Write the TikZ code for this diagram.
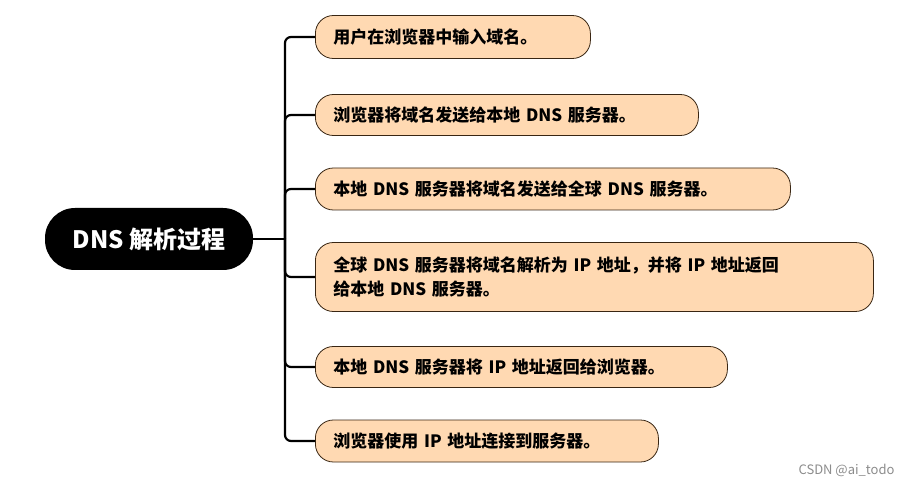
\documentclass[tikz,border=0pt]{standalone}
\usepackage{fontspec}
\setmainfont{Noto Sans CJK SC}
\usetikzlibrary{positioning}
\tikzset{
  stepbox/.style={draw=black!70!brown,line width=0.8pt,fill=orange!30!white,rounded corners=18pt,
    anchor=west,align=left,inner xsep=18pt,font=\fontsize{17}{24}\selectfont\bfseries},
  rootbox/.style={fill=black,text=white,rounded corners=30pt,minimum width=208pt,minimum height=62pt,
    font=\fontsize{24}{26}\selectfont\bfseries},
  link/.style={line width=2.2pt,rounded corners=6pt}
}
\begin{document}
\begin{tikzpicture}[x=1pt,y=-1pt]
\useasboundingbox (0,0) rectangle (910,486);
\node[rootbox] (root) at (149,239) {DNS 解析过程};
\coordinate (hub) at (285,239);
\node[stepbox,minimum width=275pt,minimum height=43pt,text width=239pt] (s1) at (315,37) {用户在浏览器中输入域名。};
\node[stepbox,minimum width=383pt,minimum height=41pt,text width=347pt] (s2) at (315,115) {浏览器将域名发送给本地 DNS 服务器。};
\node[stepbox,minimum width=475pt,minimum height=42pt,text width=439pt] (s3) at (315,189) {本地 DNS 服务器将域名发送给全球 DNS 服务器。};
\node[stepbox,minimum width=558pt,minimum height=69pt,text width=522pt] (s4) at (315,277) {全球 DNS 服务器将域名解析为 IP 地址，并将 IP 地址返回\\给本地 DNS 服务器。};
\node[stepbox,minimum width=412pt,minimum height=41pt,text width=376pt] (s5) at (315,367) {本地 DNS 服务器将 IP 地址返回给浏览器。};
\node[stepbox,minimum width=343pt,minimum height=42pt,text width=307pt] (s6) at (315,441) {浏览器使用 IP 地址连接到服务器。};
\draw[link] (root.east) -- (hub);
\foreach \s in {s1,s2,s3,s4,s5,s6}
  \draw[link] (hub) |- (\s.west);
\node[text=black!45,font=\fontsize{13}{14}\selectfont,anchor=east] (mark) at (898,470) {CSDN @ai\_todo};
\end{tikzpicture}
\end{document}
